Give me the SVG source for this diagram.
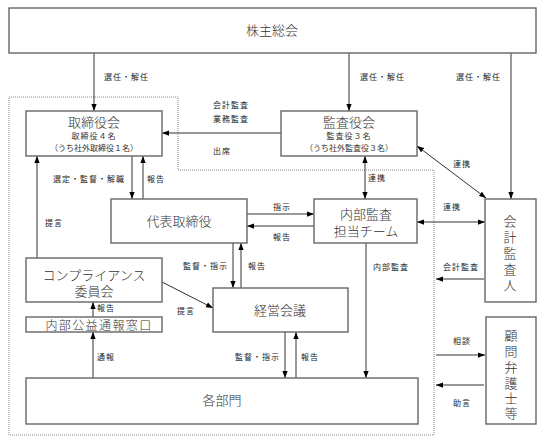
<svg xmlns="http://www.w3.org/2000/svg" width="545" height="443" viewBox="0 0 545 443">
<style>
.box{fill:#fff;stroke:#666;stroke-width:1.4}
.t{font-family:"Liberation Sans","Noto Sans CJK JP",sans-serif;fill:#333;text-anchor:middle}
.t13{font-size:13px;font-weight:300}
.t8{font-size:8px}
.lb{font-family:"Liberation Sans","Noto Sans CJK JP",sans-serif;font-size:8px;fill:#222;letter-spacing:1px}
.c{stroke:#333;stroke-width:1;fill:none}
.a{marker-end:url(#ah)}
.d{marker-start:url(#ah);marker-end:url(#ah)}
</style>
<defs>
<marker id="ah" viewBox="0 0 8 6" refX="8" refY="3" markerWidth="7" markerHeight="6" orient="auto-start-reverse" markerUnits="userSpaceOnUse"><path d="M0,0 L8,3 L0,6 z" fill="#000"/></marker>
</defs>
<rect width="545" height="443" fill="#fff"/>
<path d="M9,97 H178 V170 H434 V435 H9 Z" fill="none" stroke="#888" stroke-width="1" stroke-dasharray="1,1"/>

<g id="connectors">
<line class="c a" x1="94" y1="53" x2="94" y2="111"/>
<line class="c a" x1="349" y1="53" x2="349" y2="111"/>
<line class="c a" x1="511" y1="53" x2="511" y2="199"/>
<line class="c a" x1="281" y1="133" x2="162" y2="133"/>
<line class="c a" x1="132" y1="156" x2="132" y2="199"/>
<line class="c a" x1="143" y1="199" x2="143" y2="156"/>
<line class="c a" x1="37" y1="258" x2="37" y2="156"/>
<line class="c d" x1="365" y1="156" x2="365" y2="199"/>
<line class="c d" x1="417" y1="146" x2="486" y2="198"/>
<line class="c a" x1="247" y1="214" x2="314" y2="214"/>
<line class="c a" x1="314" y1="226" x2="247" y2="226"/>
<line class="c d" x1="417" y1="222" x2="485" y2="222"/>
<line class="c a" x1="484" y1="279" x2="436" y2="279"/>
<line class="c a" x1="233" y1="243" x2="233" y2="288"/>
<line class="c a" x1="241" y1="288" x2="241" y2="243"/>
<line class="c a" x1="162" y1="282" x2="213" y2="308"/>
<line class="c a" x1="93" y1="317" x2="93" y2="302"/>
<line class="c a" x1="93" y1="378" x2="93" y2="332"/>
<line class="c a" x1="285" y1="332" x2="285" y2="378"/>
<line class="c a" x1="296" y1="378" x2="296" y2="332"/>
<line class="c a" x1="366" y1="243" x2="366" y2="378"/>
<line class="c a" x1="436" y1="355" x2="485" y2="355"/>
<line class="c a" x1="484" y1="385" x2="436" y2="385"/>
</g>

<g id="labels">
<text class="lb" x="104" y="80">選任・解任</text>
<text class="lb" x="360" y="80">選任・解任</text>
<text class="lb" x="456" y="80">選任・解任</text>
<text class="lb" x="213" y="108">会計監査</text>
<text class="lb" x="213" y="122">業務監査</text>
<text class="lb" x="213" y="154">出席</text>
<text class="lb" x="53" y="182">選定・監督・解職</text>
<text class="lb" x="147" y="182">報告</text>
<text class="lb" x="368" y="181">連携</text>
<text class="lb" x="453" y="167">連携</text>
<text class="lb" x="45" y="226">提言</text>
<text class="lb" x="273" y="210">指示</text>
<text class="lb" x="273" y="240">報告</text>
<text class="lb" x="443" y="210">連携</text>
<text class="lb" x="183" y="269">監督・指示</text>
<text class="lb" x="248" y="269">報告</text>
<text class="lb" x="373" y="270">内部監査</text>
<text class="lb" x="443" y="270">会計監査</text>
<text class="lb" x="97" y="311">報告</text>
<text class="lb" x="177" y="314">提言</text>
<text class="lb" x="97" y="360">通報</text>
<text class="lb" x="235" y="360">監督・指示</text>
<text class="lb" x="301" y="360">報告</text>
<text class="lb" x="453" y="344">相談</text>
<text class="lb" x="453" y="406">助言</text>
</g>

<g id="shareholders">
<rect class="box" x="9" y="8" width="527" height="45"/>
<text class="t t13" x="272" y="35">株主総会</text>
</g>
<g id="board">
<rect class="box" x="26" y="111" width="136" height="45"/>
<text class="t t13" x="94" y="127">取締役会</text>
<text class="t t8" x="94" y="139" letter-spacing="1">取締役４名</text>
<text class="t t8" x="94" y="151">（うち社外取締役１名）</text>
</g>
<g id="auditors">
<rect class="box" x="281" y="111" width="136" height="45"/>
<text class="t t13" x="349" y="127">監査役会</text>
<text class="t t8" x="349" y="139" letter-spacing="1">監査役３名</text>
<text class="t t8" x="349" y="151">（うち社外監査役３名）</text>
</g>
<g id="ceo">
<rect class="box" x="111" y="199" width="136" height="44"/>
<text class="t t13" x="179" y="226">代表取締役</text>
</g>
<g id="internal-audit">
<rect class="box" x="314" y="199" width="103" height="44"/>
<text class="t t13" x="366" y="219">内部監査</text>
<text class="t t13" x="366" y="236">担当チーム</text>
</g>
<g id="accounting-auditor">
<rect class="box" x="485" y="199" width="51" height="103"/>
<text class="t t13" x="510" y="226">会</text>
<text class="t t13" x="510" y="242">計</text>
<text class="t t13" x="510" y="258">監</text>
<text class="t t13" x="510" y="274">査</text>
<text class="t t13" x="510" y="290">人</text>
</g>
<g id="compliance">
<rect class="box" x="26" y="258" width="136" height="44"/>
<text class="t t13" x="94" y="280">コンプライアンス</text>
<text class="t t13" x="94" y="296">委員会</text>
</g>
<g id="whistleblower">
<rect class="box" x="26" y="317" width="136" height="15"/>
<text class="t" x="99" y="329.5" font-size="12" font-weight="300" letter-spacing="1.4">内部公益通報窓口</text>
</g>
<g id="management">
<rect class="box" x="213" y="288" width="135" height="44"/>
<text class="t t13" x="280" y="315">経営会議</text>
</g>
<g id="lawyers">
<rect class="box" x="486" y="317" width="50" height="107"/>
<text class="t t13" x="511" y="340">顧</text>
<text class="t t13" x="511" y="356">問</text>
<text class="t t13" x="511" y="372">弁</text>
<text class="t t13" x="511" y="388">護</text>
<text class="t t13" x="511" y="403">士</text>
<text class="t t13" x="511" y="418">等</text>
</g>
<g id="departments">
<rect class="box" x="26" y="378" width="392" height="46"/>
<text class="t t13" x="222" y="405">各部門</text>
</g>
</svg>
